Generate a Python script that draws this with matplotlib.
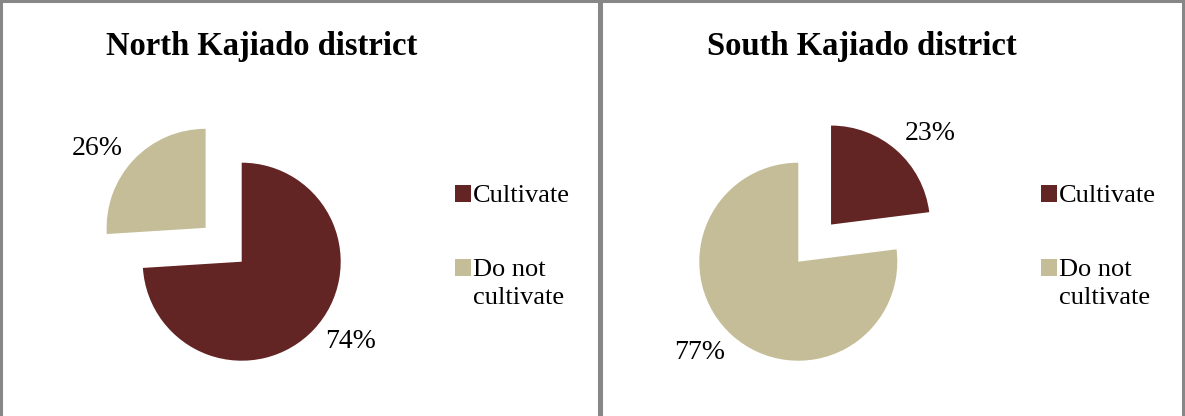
import math
import matplotlib.pyplot as plt
from matplotlib.patches import Rectangle

# ------------------------------
# Data
# ------------------------------
categories = ["Cultivate", "Do not\ncultivate"]
north_values = [74, 26]
south_values = [23, 77]
titles = ["North Kajiado district", "South Kajiado district"]

colors = ["#632523", "#C4BD97"]

W, H = 1185, 416
plt.rcParams['font.family'] = ['Liberation Serif', 'DejaVu Serif']

fig = plt.figure(figsize=(W / 100, H / 100), dpi=100)
fig.patch.set_facecolor("white")

# ------------------------------
# Panel frames (pixel coordinates, y measured from top)
# ------------------------------
panels = [(1, 1, 598, 430), (601, 1, 582, 430)]
for px, py, pw, ph in panels:
    fig.patches.append(Rectangle((px / W, 1 - (py + ph) / H), pw / W, ph / H,
                                 transform=fig.transFigure, fill=False,
                                 edgecolor="#878787", linewidth=2.2))


def draw_pie(values, title, cx, cy, title_x, legend_x, label_rot):
    # radius of the pie in pixels, axes spans +-span data units
    R = 99
    span = 1.8
    ax = fig.add_axes([(cx - R * span) / W, (H - cy - R * span) / H,
                       2 * R * span / W, 2 * R * span / H])
    explode = [0.5 if v == min(values) else 0 for v in values]
    wedges, texts, autotexts = ax.pie(
        values, colors=colors, startangle=90, counterclock=False,
        explode=explode, autopct="%d%%", pctdistance=1.33,
        textprops=dict(fontsize=20, color="black"))
    # nudge the percentage labels round the pie ("best fit" placement)
    for w, t in zip(wedges, autotexts):
        ang = math.radians((w.theta1 + w.theta2) / 2 + label_rot)
        x0, y0 = w.center
        t.set_position((x0 + 1.36 * math.cos(ang), y0 + 1.36 * math.sin(ang)))
    ax.set_xlim(-span, span)
    ax.set_ylim(-span, span)
    ax.axis("off")

    fig.text(title_x / W, 1 - 47 / H, title, ha="center", va="center",
             fontsize=23.5, fontweight="bold")

    leg = ax.legend(wedges, categories, loc="center left",
                    bbox_to_anchor=(legend_x / W, 1 - 247 / H),
                    bbox_transform=fig.transFigure, frameon=False,
                    fontsize=19, handlelength=0.6, handleheight=0.6,
                    handletextpad=0.08, labelspacing=1.95)
    for t in leg.get_texts():
        t.set_linespacing(1.35)
    # square sits next to the first line of each entry
    for col in leg._legend_handle_box.get_children():
        for row in col.get_children():
            row.align = "top"
    return ax


draw_pie(north_values, titles[0], 241.7, 261.7, 262, 431, 7)
draw_pie(south_values, titles[1], 798.3, 261.7, 862, 1017, -6)

plt.savefig("out.png", dpi=100)
